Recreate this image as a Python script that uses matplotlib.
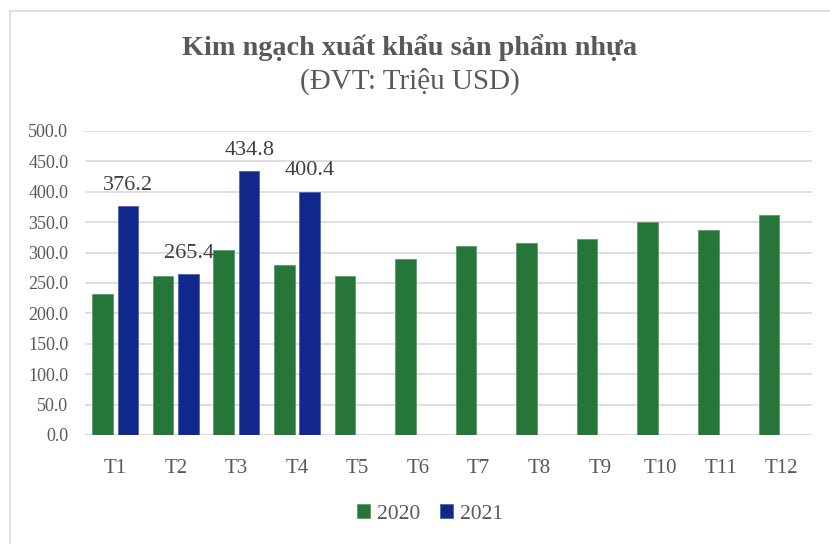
import numpy as np
import matplotlib.pyplot as plt
from matplotlib.lines import Line2D

months = ['T1', 'T2', 'T3', 'T4', 'T5', 'T6', 'T7', 'T8', 'T9', 'T10', 'T11', 'T12']
val_2020 = [232.4, 262.0, 304.0, 279.6, 261.0, 289.5, 311.0, 315.5, 322.0, 350.5, 337.6, 362.0]
val_2021 = [376.2, 265.4, 434.8, 400.4]

green = '#26763A'
blue = '#10288C'
text_col = '#595959'

plt.rcParams['font.family'] = ['Liberation Serif', 'DejaVu Serif']

fig = plt.figure(figsize=(8.3, 5.44), dpi=100)
ax = fig.add_axes([0.1024, 0.2004, 0.8758, 0.5588])

x = np.arange(len(months))
w = 0.34
off = 0.21
ax.bar(x - off, val_2020, w, color=green, edgecolor='#5E9C6B', linewidth=0.6, label='2020', zorder=3)
b21 = ax.bar(x[:len(val_2021)] + off, val_2021, w, color=blue, edgecolor='#4F63B0', linewidth=0.6, label='2021', zorder=3)

# data labels for 2021
for rect, v in zip(b21, val_2021):
    ax.annotate(f'{v:.1f}', (rect.get_x() + rect.get_width() / 2, v),
                xytext=(0, 8), textcoords='offset points', ha='center', va='bottom',
                fontsize=16, color='#404040')

ax.set_xlim(-0.5, len(months) - 0.5)
ax.set_ylim(0, 500)
ax.set_yticks(np.arange(0, 501, 50))
ax.set_yticklabels([f'{t:.1f}' for t in np.arange(0, 501, 50)])
ax.set_xticks(x)
ax.set_xticklabels(months)
ax.tick_params(axis='both', length=0, colors=text_col)
ax.tick_params(axis='x', pad=17, labelsize=15)
ax.tick_params(axis='y', pad=12, labelsize=13)
ax.grid(axis='y', color='#D9D9D9', linewidth=1.2, zorder=0)
ax.set_axisbelow(True)
for s in ax.spines.values():
    s.set_visible(False)

fig.text(0.494, 0.912, 'Kim ngạch xuất khẩu sản phẩm nhựa', ha='center', va='center',
         fontsize=20.3, fontweight='bold', color=text_col)
fig.text(0.494, 0.851, '(ĐVT: Triệu USD)', ha='center', va='center',
         fontsize=21, color=text_col)

fig.legend(loc='center', bbox_to_anchor=(0.518, 0.055), ncol=2, frameon=False,
           fontsize=15.5, labelcolor=text_col, handlelength=0.6, handleheight=0.6,
           handletextpad=0.35, columnspacing=0.9)

# chart area border (left and top visible)
fig.add_artist(Line2D([10 / 830, 10 / 830], [0, 1 - 11 / 544], transform=fig.transFigure,
                      color='#D9D9D9', linewidth=1.2))
fig.add_artist(Line2D([10 / 830, 1], [1 - 11 / 544, 1 - 11 / 544], transform=fig.transFigure,
                      color='#D9D9D9', linewidth=1.2))

fig.savefig('out.png', dpi=100)
